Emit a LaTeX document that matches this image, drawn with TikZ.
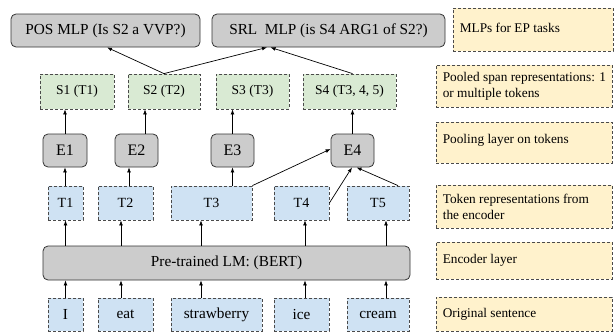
\documentclass[tikz,border=0pt]{standalone}
\usepackage{fontspec}
\setmainfont{Liberation Serif}
\usetikzlibrary{arrows.meta}
\definecolor{grayfill}{HTML}{CCCCCC}
\definecolor{greenfill}{HTML}{D9EAD3}
\definecolor{bluefill}{HTML}{CFE2F3}
\definecolor{yellowfill}{HTML}{FFF2CC}
\definecolor{solidedge}{HTML}{333333}
\definecolor{dashedge}{HTML}{4A4A4A}
\begin{document}
\begin{tikzpicture}[x=1pt,y=-1pt,
  solidbox/.style={draw=solidedge, fill=grayfill, rounded corners=5pt, line width=0.8pt, inner sep=0pt},
  mlpbox/.style={solidbox, minimum height=33pt, font=\fontsize{15.3}{18}\selectfont},
  encbox/.style={solidbox, minimum width=43pt, minimum height=33pt, font=\fontsize{16}{18}\selectfont},
  dashbox/.style={draw=dashedge, dash pattern=on 3pt off 2pt, line width=0.8pt, inner sep=0pt},
  spanbox/.style={dashbox, fill=greenfill, minimum height=35pt, font=\fontsize{13.5}{16}\selectfont},
  tokbox/.style={dashbox, fill=bluefill, minimum height=34pt, font=\fontsize{14}{16}\selectfont},
  wordbox/.style={dashbox, fill=bluefill, minimum height=33pt, font=\fontsize{15.3}{18}\selectfont},
  legbox/.style={dashbox, fill=yellowfill, minimum width=176pt},
  legtext/.style={anchor=west, inner sep=0pt, align=left, font=\fontsize{13.3}{16}\selectfont},
  arr/.style={-{Latex[length=5pt,width=3.8pt]}, line width=0.7pt}
]
\useasboundingbox (0,0) rectangle (616,332);

% MLP row
\node[mlpbox, minimum width=189pt] (pos) at (105.5,30.5) {POS MLP (Is S2 a VVP?)};
\node[mlpbox, minimum width=233pt] (srl) at (328.5,30.5) {SRL\ \ MLP (is S4 ARG1 of S2?)};

% span row
\node[spanbox, minimum width=74pt] (s1) at (77,91.5) {S1 (T1)};
\node[spanbox, minimum width=72pt] (s2) at (164,91.5) {S2 (T2)};
\node[spanbox, minimum width=73pt] (s3) at (252.5,91.5) {S3 (T3)};
\node[spanbox, minimum width=93pt] (s4) at (349.5,91.5) {S4 (T3, 4, 5)};

% pooling row
\node[encbox, minimum width=44pt] (e1) at (65,150.5) {E1};
\node[encbox] (e2) at (136.5,150.5) {E2};
\node[encbox] (e3) at (232.5,150.5) {E3};
\node[encbox] (e4) at (352.5,150.5) {E4};

% token representations
\node[tokbox, minimum width=35pt] (t1) at (65.5,203) {T1};
\node[tokbox, minimum width=55pt] (t2) at (125.5,203) {T2};
\node[tokbox, minimum width=81pt] (t3) at (211.5,203) {T3};
\node[tokbox, minimum width=55pt] (t4) at (301.5,203) {T4};
\node[tokbox, minimum width=62pt] (t5) at (378,203) {T5};

% encoder
\node[mlpbox, minimum width=367pt, minimum height=34pt] (bert) at (226.5,263) {Pre-trained LM: (BERT)};

% words
\node[wordbox, minimum width=35pt] (w1) at (65.5,314.5) {I};
\node[wordbox, minimum width=55pt] (w2) at (125.5,314.5) {eat};
\node[wordbox, minimum width=91pt] (w3) at (216.5,314.5) {strawberry};
\node[wordbox, minimum width=55pt] (w4) at (301.5,314.5) {ice};
\node[wordbox, minimum width=62pt] (w5) at (378,314.5) {cream};

% legend
\node[legbox, minimum width=160pt, minimum height=43pt] (l1) at (533,29.5) {};
\node[legtext] (l1t) at ([xshift=7pt,yshift=2pt]l1.west) {MLPs for EP tasks};
\node[legbox, minimum height=42pt] (l2) at (524,86) {};
\node[legtext] (l2t) at ([xshift=7pt]l2.west) {Pooled span representations: 1\\or multiple tokens};
\node[legbox, minimum height=41pt] (l3) at (524,142.5) {};
\node[legtext] (l3t) at ([xshift=7pt,yshift=2pt]l3.west) {Pooling layer on tokens};
\node[legbox, minimum height=43pt] (l4) at (524,206.5) {};
\node[legtext] (l4t) at ([xshift=7pt]l4.west) {Token representations from\\the encoder};
\node[legbox, minimum height=37pt] (l5) at (524,260.5) {};
\node[legtext] (l5t) at ([xshift=7pt]l5.west) {Encoder layer};
\node[legbox, minimum height=34pt] (l6) at (524,314) {};
\node[legtext] (l6t) at ([xshift=7pt]l6.west) {Original sentence};

% words -> encoder
\draw[arr] (w1.north) -- (w1.north |- bert.south);
\draw[arr] ([xshift=-4.5pt]w2.north) -- ([xshift=-4.5pt]w2.north |- bert.south);
\draw[arr] ([xshift=-15.5pt]w3.north) -- ([xshift=-15.5pt]w3.north |- bert.south);
\draw[arr] ([xshift=3.5pt]w4.north) -- ([xshift=3.5pt]w4.north |- bert.south);
\draw[arr] ([xshift=8pt]w5.north) -- ([xshift=8pt]w5.north |- bert.south);

% encoder -> tokens
\draw[arr] (t1.south |- bert.north) -- (t1.south);
\draw[arr] ([xshift=-4.5pt]t2.south |- bert.north) -- ([xshift=-4.5pt]t2.south);
\draw[arr] ([xshift=-10.5pt]t3.south |- bert.north) -- ([xshift=-10.5pt]t3.south);
\draw[arr] ([xshift=3.5pt]t4.south |- bert.north) -- ([xshift=3.5pt]t4.south);
\draw[arr] ([xshift=8pt]t5.south |- bert.north) -- ([xshift=8pt]t5.south);

% tokens -> pooling
\draw[arr] (e1.south |- t1.north) -- (e1.south);
\draw[arr] ([xshift=-7.5pt]e2.south |- t2.north) -- ([xshift=-7.5pt]e2.south);
\draw[arr] (e3.south |- t3.north) -- (e3.south);
\draw[arr] (t3.north east) -- ([yshift=1.5pt]e4.west);
\draw[arr] (t4.east) -- ([xshift=-0.5pt]e4.south);
\draw[arr] ([xshift=20pt]t5.north) -- ([xshift=4pt]e4.south);

% pooling -> spans
\draw[arr] (e1.north) -- (e1.north |- s1.south);
\draw[arr] ([xshift=8.5pt]e2.north) -- ([xshift=8.5pt]e2.north |- s2.south);
\draw[arr] (e3.north) -- (e3.north |- s3.south);
\draw[arr] (e4.north) -- (e4.north |- s4.south);

% spans -> MLPs
\draw[arr] (s2.north) -- ([xshift=1.5pt]pos.south);
\draw[arr] (s2.north) -- ([xshift=-61.5pt]srl.south);
\draw[arr] ([xshift=3pt]s4.north) -- ([xshift=-58pt]srl.south);
\end{tikzpicture}
\end{document}
